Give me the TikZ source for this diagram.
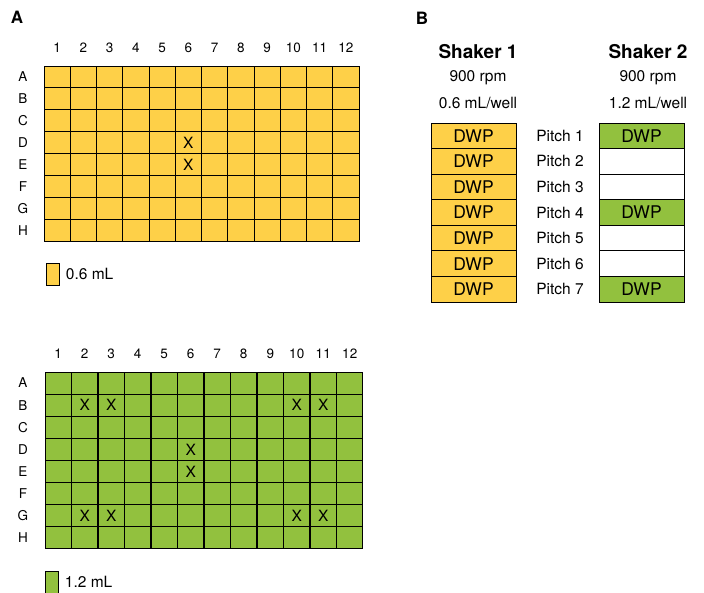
\documentclass[tikz,border=0pt]{standalone}
\usepackage{fontspec}
\setmainfont{TeX Gyre Heros}
\usetikzlibrary{positioning}
\definecolor{plateyellow}{RGB}{254,208,72}
\definecolor{plategreen}{RGB}{146,193,62}

\begin{document}
\begin{tikzpicture}[x=1pt,y=-1pt,
  well/.style={rectangle,draw,line width=0.9pt,minimum width=26.3pt,
    minimum height=22pt,inner sep=0pt},
  pitchbox/.style={rectangle,draw,line width=0.9pt,minimum width=85pt,
    minimum height=25.6pt,inner sep=0pt,font=\fontsize{17.5}{18}\selectfont},
  legbox/.style={rectangle,draw,line width=0.9pt,minimum width=13pt,
    minimum height=22pt,inner sep=0pt},
  lbl/.style={font=\fontsize{13.5}{15}\selectfont},
  txt/.style={font=\fontsize{15.5}{17}\selectfont},
  xmark/.style={font=\fontsize{15.5}{17}\selectfont},
  panel/.style={font=\bfseries\fontsize{17}{19}\selectfont},
  head/.style={font=\bfseries\fontsize{19}{21}\selectfont}
]
\useasboundingbox (0,0) rectangle (704,592);

% A: upper plate
\node[panel] (pa) at (17,17) {A};
\foreach \r in {1,...,8}
  \foreach \c in {1,...,12}
    \node[well,fill=plateyellow] (p1-\r-\c) at ({44+(\c-0.5)*26.25},{66+(\r-0.5)*21.9}) {};
\foreach \c in {1,...,12}
  \node[lbl] (c1-\c) at ({44+(\c-0.5)*26.25},48) {\c};
\foreach \l [count=\r] in {A,B,C,D,E,F,G,H}
  \node[lbl] (r1-\r) at (23,{66+(\r-0.5)*21.9}) {\l};
\foreach \r/\c in {4/6,5/6}
  \node[xmark] at (p1-\r-\c) {X};
\node[legbox,fill=plateyellow] (leg1) at (52.5,274) {};
\node[txt,right=3pt of leg1] (legt1) {0.6 mL};

% A: lower plate
\foreach \r in {1,...,8}
  \foreach \c in {1,...,12}
    \node[well,fill=plategreen] (p2-\r-\c) at ({45+(\c-0.5)*26.5},{372+(\r-0.5)*22.1}) {};
\foreach \c in {1,...,12}
  \node[lbl] (c2-\c) at ({45+(\c-0.5)*26.5},354) {\c};
\foreach \l [count=\r] in {A,B,C,D,E,F,G,H}
  \node[lbl] (r2-\r) at (23,{372+(\r-0.5)*22.1}) {\l};
\foreach \r/\c in {2/2,2/3,2/10,2/11,4/6,5/6,7/2,7/3,7/10,7/11}
  \node[xmark] at (p2-\r-\c) {X};
\node[legbox,fill=plategreen] (leg2) at (51.5,582) {};
\node[txt,right=3pt of leg2] (legt2) {1.2 mL};

% B: shakers
\node[panel] (pb) at (422,18) {B};
\node[head] (sh1) at (478,52) {Shaker 1};
\node[txt] (rpm1) at (478,78) {900 rpm};
\node[txt] (vol1) at (478,103) {0.6 mL/well};
\node[head] (sh2) at (648,52) {Shaker 2};
\node[txt] (rpm2) at (648,78) {900 rpm};
\node[txt] (vol2) at (648,103) {1.2 mL/well};
\foreach \i/\f/\t in {1/plategreen/DWP,2/white/,3/white/,4/plategreen/DWP,
                      5/white/,6/white/,7/plategreen/DWP} {
  \node[pitchbox,fill=plateyellow] (s1-\i) at (473.5,{123+(\i-0.5)*25.57}) {DWP};
  \node[txt] (pt-\i) at (560,{123+(\i-0.5)*25.57}) {Pitch \i};
  \node[pitchbox,fill=\f] (s2-\i) at (641.5,{123+(\i-0.5)*25.57}) {\t};
}
\end{tikzpicture}
\end{document}
